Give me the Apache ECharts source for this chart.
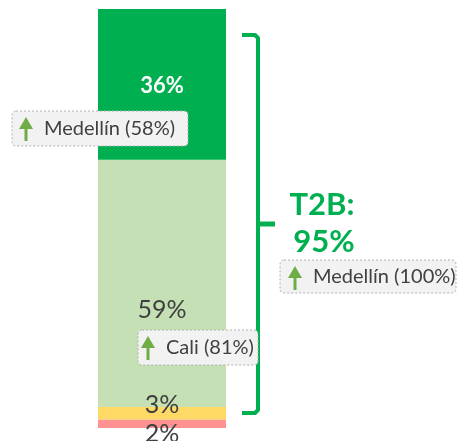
<!DOCTYPE html>
<html>
<head>
<meta charset="utf-8">
<script src="https://cdn.jsdelivr.net/npm/echarts@6/dist/echarts.min.js"></script>
<style>
  html, body { margin: 0; padding: 0; background: #fff; }
  #chart { width: 457px; height: 441px; }
</style>
</head>
<body>
<div id="chart"></div>
<script>
// data, bottom to top of the stack
const categories = ['Total'];
const segmentNames = ['Muy malo', 'Malo', 'Bueno', 'Muy bueno'];
const segmentValues = [2, 3, 59, 36];
const segmentColors = ['#ff9191', '#ffd966', '#c5e0b4', '#00b050'];
const t2bLabel = ['T2B:', '95%'];
const notes = ['Medellín (58%)', 'Medellín (100%)', 'Cali (81%)'];

const FONT = 'Lato';
const GREY = '#404040';
const GREEN = '#00b050';
const ARROW = '#70ad47';

// label styling per segment (index matches segmentValues)
const labelStyles = [
  { offset: [0, 10], fontSize: 25, color: GREY, fontWeight: 'normal' },
  { offset: [0, -8], fontSize: 25, color: GREY, fontWeight: 'normal' },
  { offset: [0, 26], fontSize: 25, color: GREY, fontWeight: 'normal' },
  { offset: [0, 1], fontSize: 22, color: '#ffffff', fontWeight: 'bold' }
];

const series = segmentValues.map((v, i) => ({
  name: segmentNames[i],
  type: 'bar',
  stack: 'total',
  barWidth: '100%',
  data: [v],
  itemStyle: { color: segmentColors[i] },
  label: {
    show: true,
    position: 'inside',
    formatter: '{c}%',
    fontFamily: FONT,
    offset: labelStyles[i].offset,
    fontSize: labelStyles[i].fontSize,
    fontWeight: labelStyles[i].fontWeight,
    color: labelStyles[i].color
  }
}));

function note(x, y, w, h, arrowX, text) {
  const top = y + 6;
  return {
    type: 'group',
    z: 100,
    children: [
      {
        type: 'rect',
        z: 100,
        shape: { x: x, y: y, width: w, height: h, r: 4 },
        style: { fill: '#f2f2f2', stroke: '#b0b0b0', lineWidth: 1, lineDash: [2, 2] }
      },
      {
        type: 'polygon',
        z: 101,
        shape: { points: [[arrowX, top], [arrowX - 7, top + 12], [arrowX + 7, top + 12]] },
        style: { fill: ARROW }
      },
      {
        type: 'rect',
        z: 101,
        shape: { x: arrowX - 1.5, y: top + 11, width: 3, height: 13 },
        style: { fill: ARROW }
      },
      {
        type: 'text',
        z: 101,
        x: arrowX + 18,
        y: y + h / 2,
        style: { text: text, font: '20px ' + FONT, fill: GREY, verticalAlign: 'middle' }
      }
    ]
  };
}

const chart = echarts.init(document.getElementById('chart'));
chart.setOption({
  animation: false,
  grid: { left: 98, right: 231, top: 9, bottom: 13 },
  xAxis: { type: 'category', data: categories, show: false },
  yAxis: { type: 'value', min: 0, max: 100, show: false },
  series: series,
  graphic: [
    {
      type: 'polyline',
      z: 100,
      shape: { points: [[242, 35], [255, 35], [258, 38], [258, 410], [255, 413], [242, 413]] },
      style: { stroke: GREEN, lineWidth: 4, fill: null, lineJoin: 'round' }
    },
    {
      type: 'line',
      z: 100,
      shape: { x1: 258, y1: 224, x2: 275, y2: 224 },
      style: { stroke: GREEN, lineWidth: 5 }
    },
    {
      type: 'text', x: 322, y: 205, z: 100,
      style: { text: t2bLabel[0], font: 'bold 31px ' + FONT, fill: GREEN, align: 'center', verticalAlign: 'middle' }
    },
    {
      type: 'text', x: 324, y: 242, z: 100,
      style: { text: t2bLabel[1], font: 'bold 31px ' + FONT, fill: GREEN, align: 'center', verticalAlign: 'middle' }
    },
    note(12, 111, 176, 35, 26, notes[0]),
    note(280, 260, 176, 33, 295, notes[1]),
    note(138, 330, 120, 35, 148, notes[2])
  ]
});
</script>
</body>
</html>
